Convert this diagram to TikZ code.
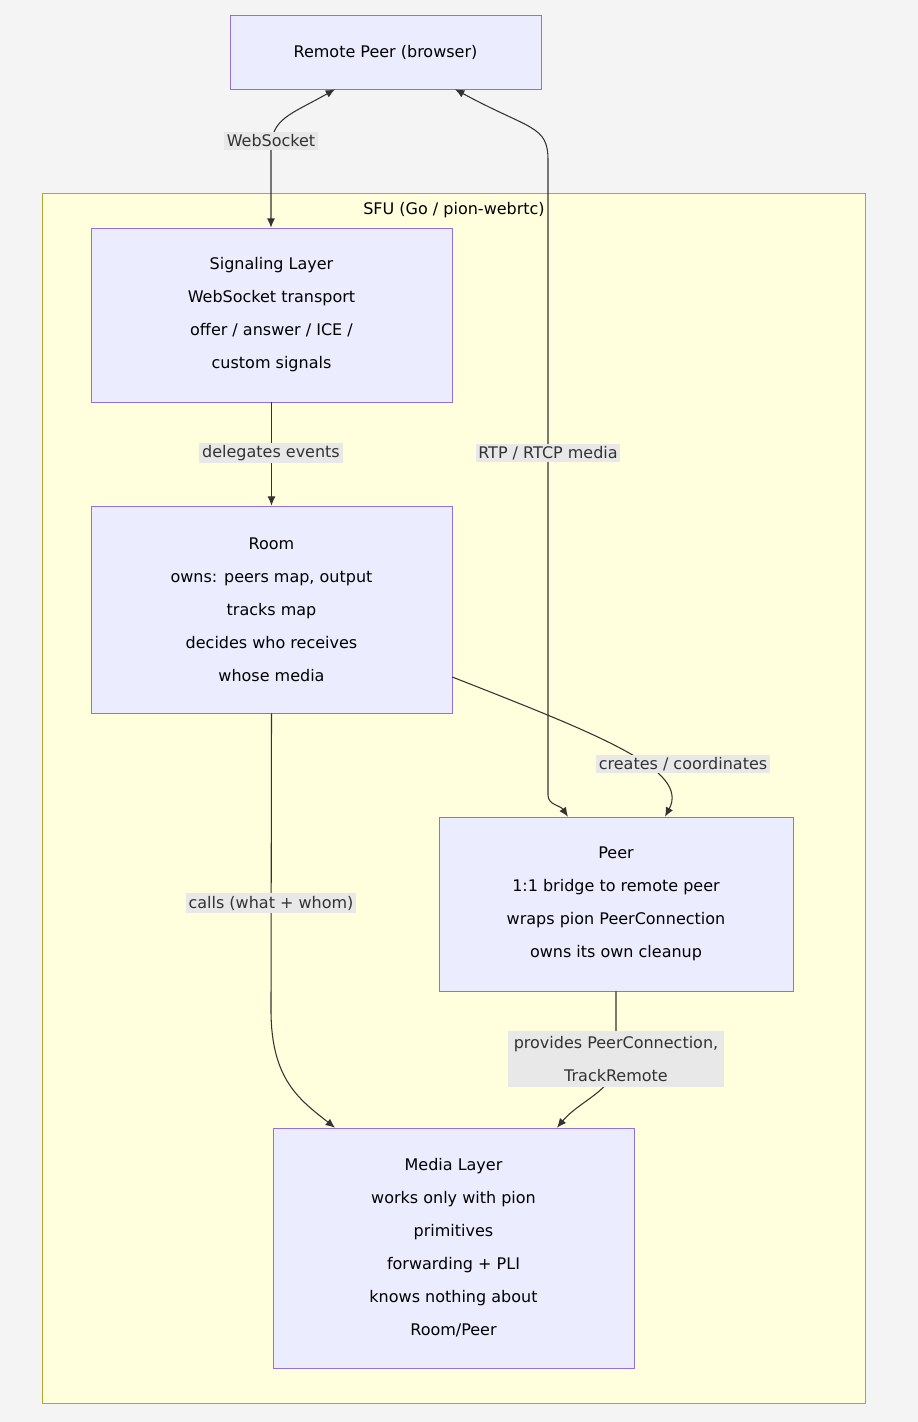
\documentclass[tikz,border=0pt]{standalone}
\usepackage{fontspec}
\setmainfont{DejaVu Sans}
\usetikzlibrary{positioning,arrows.meta}
\definecolor{boxfill}{HTML}{ECECFF}
\definecolor{boxline}{HTML}{9370DB}
\definecolor{clusterfill}{HTML}{FFFFDE}
\definecolor{clusterline}{HTML}{AAAA33}
\definecolor{labelfill}{HTML}{E8E8E8}
\definecolor{pagefill}{HTML}{F4F4F4}
\definecolor{edgeline}{HTML}{333333}
\begin{document}
\begin{tikzpicture}[x=0.75pt,y=-0.75pt,
  font=\fontsize{12}{24.75}\selectfont,
  block/.style={draw=boxline,fill=boxfill,align=center,inner sep=0pt,
    minimum height=#1*0.75pt},
  edgelabel/.style={fill=labelfill,align=center,inner sep=2pt,text=edgeline},
  link/.style={draw=edgeline,line width=0.8pt,-{Latex[length=7pt,width=6pt]}},
  both/.style={link,{Latex[length=7pt,width=6pt]}-{Latex[length=7pt,width=6pt]}}]
  % page and cluster
  \fill[pagefill] (0,0) rectangle (918,1422);
  \useasboundingbox (0,0) rectangle (918,1422);
  \draw[clusterline,fill=clusterfill] (42,193) rectangle (865,1403);
  \node (sfu) at (454,210) {SFU (Go / pion-webrtc)};
  % blocks
  \node[block=74,minimum width=311*0.75pt] (remote) at (385.5,52) {Remote Peer (browser)};
  \node[block=174,minimum width=361*0.75pt] (signal) at (271.5,315)
    {Signaling Layer\\WebSocket transport\\offer / answer / ICE /\\custom signals};
  \node[block=207,minimum width=361*0.75pt] (room) at (271.5,609.5)
    {Room\\owns: peers map, output\\tracks map\\decides who receives\\whose media};
  \node[block=174,minimum width=354*0.75pt] (peer) at (616,904)
    {Peer\\1:1 bridge to remote peer\\wraps pion PeerConnection\\owns its own cleanup};
  \node[block=240,minimum width=361*0.75pt] (media) at (453.5,1248)
    {Media Layer\\works only with pion\\primitives\\forwarding + PLI\\knows nothing about\\Room/Peer};
  % connectors
  \coordinate (wsA) at (271,150);
  \coordinate (rtA) at (548,160);
  \coordinate (rtB) at (548,795);
  \coordinate (rmA) at (271,1010);
  \coordinate (pmA) at (616,1060);
  \draw[both] (remote.south west -| 335,0) .. controls (290,115) and (271,118) .. (wsA) -- (signal.north -| wsA);
  \draw[both] (remote.south west -| 455,0) .. controls (530,130) and (548,125) .. (rtA) -- (rtB)
    .. controls (548,805) and (560,805) .. (peer.north west -| 568,0);
  \draw[link] (signal) -- (room);
  \draw[link] (room.east |- 0,677) .. controls (600,735) and (690,770) .. (peer.north west -| 665,0);
  \draw[link] (room.south) -- (rmA) .. controls (271,1080) and (300,1100) .. (media.north west -| 335,0);
  \draw[link] (peer.south) -- (pmA) .. controls (616,1090) and (580,1100) .. (media.north west -| 557,0);
  % labels
  \node[edgelabel] (lws) at (271,141) {WebSocket};
  \node[edgelabel] (lrtp) at (548,453) {RTP / RTCP media};
  \node[edgelabel] (ldel) at (271,453) {delegates events};
  \node[edgelabel] (lcre) at (683,764) {creates / coordinates};
  \node[edgelabel] (lcall) at (271,903) {calls (what + whom)};
  \node[edgelabel,inner sep=4pt] (lprov) at (616,1059) {provides PeerConnection,\\TrackRemote};
\end{tikzpicture}
\end{document}
